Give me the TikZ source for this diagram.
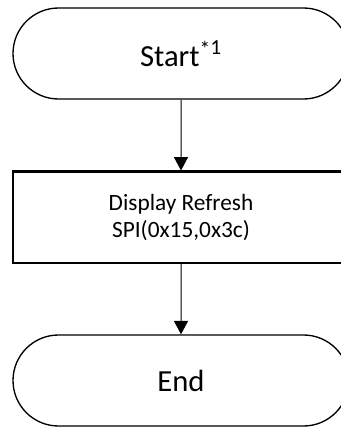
\documentclass[tikz,border=0pt]{standalone}
\usepackage{fontspec}
\setmainfont{Carlito}
\usetikzlibrary{shapes.misc,arrows.meta}
\begin{document}
\begin{tikzpicture}[x=0.75pt,y=-0.75pt,
  terminal/.style={draw=black,line width=1pt,rounded rectangle,
    minimum width=252pt,minimum height=68.25pt,inner sep=0pt,
    font=\fontsize{23}{27}\selectfont},
  process/.style={draw=black,line width=1.6pt,rectangle,
    minimum width=252pt,minimum height=68.6pt,inner sep=0pt,align=center,
    font=\fontsize{17.5}{20}\selectfont},
  flow/.style={line width=0.75pt,-{Triangle[length=10pt,width=10.5pt]}}]
\useasboundingbox (0,0) rectangle (341,427);
\clip (0,0) rectangle (341,427);
\node[terminal] (start) at (181,53.5) {Start\textsuperscript{\raisebox{-0.25ex}{*}1}};
\node[process] (refresh) at (181,217.3) {Display Refresh\\SPI(0x15,0x3c)};
\node[terminal] (end) at (181,380.5) {End};
\draw[flow] (start) -- (refresh);
\draw[flow] (refresh) -- (end);
\end{tikzpicture}
\end{document}
